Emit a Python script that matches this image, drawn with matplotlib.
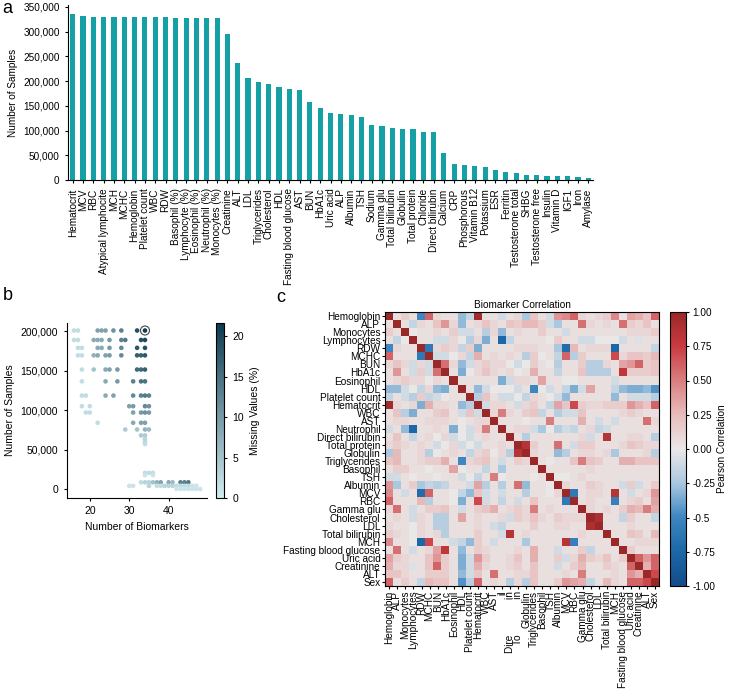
import numpy as np
import matplotlib
matplotlib.use("Agg")
import matplotlib.pyplot as plt
from matplotlib.colors import LinearSegmentedColormap
from matplotlib.ticker import FuncFormatter

plt.rcParams['font.family'] = ['Liberation Sans', 'DejaVu Sans']
plt.rcParams['font.size'] = 7.2
plt.rcParams['axes.linewidth'] = 0.8
plt.rcParams['xtick.major.width'] = 0.8
plt.rcParams['ytick.major.width'] = 0.8
plt.rcParams['xtick.major.size'] = 2.5
plt.rcParams['ytick.major.size'] = 2.5

# ---- panel a: samples per biomarker
biomarkers = ['Hematocrit', 'MCV', 'RBC', 'Atypical lymphocite', 'MCH', 'MCHC',
              'Hemoglobin', 'Platelet count', 'WBC', 'RDW', 'Basophil (%)',
              'Lymphocyte (%)', 'Eosinophil (%)', 'Neutrophil (%)', 'Monocytes (%)',
              'Creatinine', 'ALT', 'LDL', 'Triglycerides', 'Cholesterol', 'HDL',
              'Fasting blood glucose', 'AST', 'BUN', 'HbA1c', 'Uric acid', 'ALP',
              'Albumin', 'TSH', 'Sodium', 'Gamma glu', 'Total bilirubin', 'Globulin',
              'Total protein', 'Chloride', 'Direct bilirubin', 'Calcium', 'CRP',
              'Phosphorous', 'Vitamin B12', 'Potassium', 'ESR', 'Ferritin',
              'Testosterone total', 'SHBG', 'Testosterone free', 'Insulin',
              'Vitamin D', 'IGF1', 'Iron', 'Amylase']
n_samples = [335000, 331500, 330000, 330000, 330000, 330000, 330000, 330000, 330000,
             330000, 328500, 328500, 328500, 328500, 328500, 295500, 237000, 206000,
             198000, 194500, 189000, 185000, 182500, 157500, 145500, 135500, 134000,
             132000, 127500, 111000, 109000, 105700, 103000, 103000, 97000, 96300,
             54500, 33000, 29600, 29000, 27000, 20200, 16800, 13500, 9400, 9400,
             8100, 8100, 7400, 6700, 4700]

# ---- panel b: cohorts (number of biomarkers, number of samples, missing %)
bio_count = [16, 17, 22, 23, 24, 26, 28, 32, 34,
             16, 17, 21, 22, 23, 25, 28, 29, 33, 34,
             17, 18, 22, 23, 25, 28, 32, 34,
             17, 18, 21, 22, 24, 25, 28, 32, 33, 34,
             18, 21, 24, 25, 27, 32, 33, 34,
             18, 24, 27, 31, 33, 34,
             18, 19, 24, 26, 31, 33, 34, 35,
             18, 20, 30, 31, 34, 35,
             19, 20, 31, 33, 34, 35,
             22, 31, 33, 34,
             29, 32, 34, 35,
             33, 34, 34, 34, 34,
             34, 35, 36, 34, 36,
             33, 34, 35, 36, 37, 38, 40, 41, 43, 44, 45,
             30, 31, 35, 37, 38, 39, 40, 41, 42, 43, 44, 45, 46, 47,
             42, 43, 44, 45, 46, 47, 48]
sample_count = [201000] * 9 + [189000] * 10 + [179000] * 8 + [169500] * 10 + \
               [151500] * 8 + [136500] * 6 + [118500] * 8 + [105000] * 6 + \
               [97000] * 6 + [84000] * 4 + [75500] * 4 + \
               [68000, 68000, 63500, 60000, 57000] + \
               [20500, 20500, 20500, 17500, 17500] + [8500] * 11 + [4000] * 14 + [0] * 7
missing_pct = [2, 2, 9, 9, 9, 11, 13, 19, 21.5,
               2, 2, 8, 8, 8, 10, 13, 14, 19, 20,
               2, 2, 8, 8, 10, 12, 18, 19,
               2, 2, 7, 8, 9, 10, 12, 17, 17, 18,
               2, 5, 8, 9, 10, 16, 16, 17,
               2, 8, 10, 13, 15, 15,
               2, 2, 8, 9, 12, 13, 14, 13,
               2, 2, 9, 10, 12, 11,
               2, 2, 9, 10, 11, 10,
               2, 8, 9, 9,
               4, 5, 7, 6,
               4, 4, 3, 3, 2,
               2, 2, 2, 1, 1,
               2, 3, 3, 5, 7, 9, 8, 6, 13, 13, 14,
               1, 1, 3, 2, 2, 3, 3, 3, 2, 2, 2, 2, 1, 1,
               1, 1, 1, 1, 1, 1, 1]

# ---- panel c: correlation matrix (lower triangle, read row by row)
corr_labels = ['Hemoglobin', 'ALP', 'Monocytes', 'Lymphocytes', 'RDW', 'MCHC', 'BUN',
               'HbA1c', 'Eosinophil', 'HDL', 'Platelet count', 'Hematocrit', 'WBC',
               'AST', 'Neutrophil', 'Direct bilirubin', 'Total protein', 'Globulin',
               'Triglycerides', 'Basophil', 'TSH', 'Albumin', 'MCV', 'RBC', 'Gamma glu',
               'Cholesterol', 'LDL', 'Total bilirubin', 'MCH', 'Fasting blood glucose',
               'Uric acid', 'Creatinine', 'ALT', 'Sex']
# x labels as they appear (some partly hidden in the original)
corr_xlabels = corr_labels[:14] + ['il', 'Dire' + ' ' * 13 + 'in', 'To' + ' ' * 13 + 'in'] + corr_labels[17:]

lower = [
    [],
    [0.05],
    [0.15, 0.05],
    [0.05, -0.15, 0.0],
    [-0.5, 0.1, 0.05, 0.05],
    [0.6, 0.05, 0.05, 0.05, -0.6],
    [0.1, 0.2, 0.1, -0.1, 0.1, -0.1],
    [0.05, 0.4, 0.05, -0.1, 0.15, -0.1, 0.55],
    [0.05, 0.1, 0.15, 0.1, 0.1, 0.0, 0.1, 0.05],
    [-0.3, -0.3, -0.1, 0.0, -0.15, 0.1, -0.3, -0.35, 0.05],
    [-0.15, 0.05, -0.1, -0.2, 0.15, -0.15, -0.1, 0.0, 0.05, 0.05],
    [0.95, 0.1, 0.05, 0.1, -0.35, 0.3, 0.1, 0.1, 0.05, -0.3, -0.2],
    [0.05, 0.2, -0.2, -0.35, 0.05, 0.05, 0.15, 0.2, 0.05, -0.1, 0.2, -0.1],
    [0.05, 0.1, 0.1, 0.05, 0.05, 0.1, 0.1, 0.1, 0.05, 0.0, 0.05, 0.1, 0.1],
    [-0.1, 0.05, -0.3, -0.75, 0.05, 0.05, 0.1, 0.05, -0.35, 0.0, -0.1, 0.1, 0.5, 0.05],
    [0.05, 0.2, 0.05, -0.15, 0.05, 0.1, 0.0, 0.1, -0.1, 0.0, -0.1, 0.05, 0.1, 0.05, 0.05],
    [0.1, 0.15, 0.1, 0.05, 0.1, 0.05, -0.1, 0.0, 0.1, -0.1, 0.0, -0.1, 0.05, 0.05, 0.1, 0.05],
    [-0.25, 0.25, 0.05, 0.05, 0.1, -0.2, 0.0, 0.05, 0.1, 0.05, -0.15, 0.1, 0.15, 0.0, 0.1, -0.2, 0.85],
    [0.2, 0.25, 0.05, 0.05, 0.1, 0.15, 0.15, 0.3, 0.05, -0.5, 0.1, 0.15, 0.2, 0.05, -0.1, 0.05, 0.15,
     0.1],
    [0.05, 0.15, 0.15, 0.05, 0.05, 0.0, 0.05, 0.05, 0.35, 0.0, 0.05, 0.05, -0.15, 0.05, -0.25, 0.05, 0.05,
     0.05, 0.05],
    [-0.1, -0.1, 0.05, 0.0, 0.05, 0.05, 0.0, 0.05, 0.05, -0.1, 0.0, -0.15, 0.05, 0.5, 0.0, 0.05, 0.05,
     0.05, 0.0, 0.05],
    [0.4, -0.25, 0.05, 0.15, -0.25, -0.15, -0.2, -0.15, 0.05, 0.05, -0.1, 0.35, -0.2, 0.05, -0.2, 0.05, 0.55,
     -0.3, 0.05, 0.05, 0.0],
    [0.45, 0.05, -0.1, 0.05, -0.7, 0.6, 0.05, 0.05, 0.0, -0.15, -0.3, 0.2, -0.1, 0.05, -0.1, 0.05, 0.05,
     -0.2, 0.05, 0.05, 0.0, 0.1],
    [0.6, 0.05, 0.05, 0.05, 0.25, -0.2, 0.05, 0.05, 0.0, -0.35, 0.05, 0.7, -0.1, 0.05, -0.15, 0.05, -0.1,
     0.05, 0.2, 0.05, 0.05, 0.05, -0.6],
    [0.1, 0.55, 0.05, -0.1, 0.05, 0.15, 0.15, 0.2, 0.05, -0.1, 0.05, 0.15, 0.2, 0.3, 0.05, 0.1, 0.15,
     0.1, 0.5, 0.05, 0.1, 0.05, 0.05, 0.05],
    [0.05, 0.1, 0.05, -0.1, 0.1, 0.05, -0.2, -0.2, 0.05, 0.35, 0.05, 0.1, 0.05, 0.05, 0.1, -0.1, 0.15,
     0.1, 0.2, 0.1, 0.05, 0.15, 0.1, 0.1, 0.1],
    [0.1, 0.05, 0.05, 0.0, 0.1, 0.05, -0.2, -0.2, 0.05, 0.05, 0.05, 0.1, 0.05, -0.1, -0.15, 0.05, 0.05,
     0.05, 0.15, 0.05, 0.05, 0.1, 0.1, 0.05, 0.05, 0.9],
    [0.15, 0.1, 0.05, 0.0, 0.1, 0.05, 0.1, -0.2, 0.05, 0.05, 0.05, 0.15, 0.05, 0.05, -0.1, 0.85, 0.05,
     0.1, 0.05, 0.05, 0.05, 0.05, 0.05, 0.05, 0.1, 0.05, 0.05],
    [0.45, 0.05, 0.05, 0.0, -0.75, 0.7, 0.05, 0.05, -0.1, -0.15, -0.3, 0.15, 0.05, -0.1, 0.05, 0.05, 0.05,
     -0.25, 0.05, 0.05, 0.05, 0.05, 0.85, -0.55, 0.05, 0.05, 0.05, 0.05],
    [0.05, 0.55, 0.05, -0.1, 0.05, 0.1, 0.35, 0.8, 0.05, -0.3, 0.05, 0.15, 0.1, 0.05, 0.05, 0.05, 0.1,
     0.05, 0.3, 0.05, 0.05, -0.1, 0.05, 0.05, 0.15, -0.15, 0.05, 0.05, 0.05],
    [0.35, 0.15, 0.1, 0.05, 0.05, 0.2, 0.4, 0.15, 0.05, -0.35, -0.1, 0.4, 0.15, 0.05, 0.05, 0.1, 0.2,
     0.05, 0.3, 0.05, 0.05, 0.15, -0.1, 0.1, 0.3, 0.15, 0.1, 0.2, 0.05, 0.15],
    [0.3, 0.1, 0.1, -0.05, 0.05, 0.2, 0.6, 0.15, 0.05, -0.35, -0.1, 0.3, 0.1, 0.05, 0.05, 0.1, 0.15,
     0.05, 0.2, 0.05, 0.05, -0.1, 0.05, 0.15, 0.25, 0.05, 0.05, 0.15, 0.1, 0.05, 0.6],
    [0.2, 0.2, 0.1, 0.05, 0.05, 0.15, 0.15, 0.15, 0.05, -0.3, -0.1, 0.2, 0.05, 0.55, 0.05, 0.05, 0.1,
     0.1, 0.2, 0.05, 0.05, 0.05, 0.1, 0.05, 0.5, 0.05, 0.05, 0.05, 0.1, 0.05, 0.4, 0.3],
    [0.6, 0.05, 0.15, 0.05, -0.15, 0.25, 0.2, 0.2, 0.05, -0.45, -0.2, 0.6, 0.05, 0.1, 0.05, -0.2, 0.1,
     -0.2, 0.2, 0.05, 0.05, 0.15, 0.4, 0.35, 0.3, -0.15, 0.05, 0.25, 0.1, 0.05, 0.6, 0.6, 0.7],
]

n = len(corr_labels)
corr = np.eye(n)
for i, row in enumerate(lower):
    for j, v in enumerate(row):
        corr[i, j] = v
        corr[j, i] = v

W, H = 729, 692
fig = plt.figure(figsize=(W / 100, H / 100), dpi=100)


def axes_px(l, t, r, b):
    return fig.add_axes([l / W, 1 - b / H, (r - l) / W, (b - t) / H])


thousands = FuncFormatter(lambda v, p: f'{int(v):,}')

# ---------------- a
ax = axes_px(68, 5, 593, 180)
xpos = np.arange(len(biomarkers))
ax.bar(xpos, n_samples, width=0.5, color='#14a0a4')
ax.set_xlim(-0.46, len(biomarkers) - 0.54)
ax.set_ylim(0, 354000)
ax.set_yticks(np.arange(0, 350001, 50000))
ax.yaxis.set_major_formatter(thousands)
ax.set_xticks(xpos)
ax.set_xticklabels(biomarkers, rotation=90)
ax.set_ylabel('Number of Samples')
ax.spines[['top', 'right']].set_visible(False)

# ---------------- b
cmap_b = LinearSegmentedColormap.from_list('miss', ['#d3ecf1', '#0b3a4e'])
axb = axes_px(66.5, 322.7, 207.3, 498)
sc = axb.scatter(bio_count, sample_count, c=missing_pct, cmap=cmap_b, vmin=0, vmax=21.7,
                 s=11, linewidths=0)
top = int(np.argmax(missing_pct))
axb.scatter([bio_count[top]], [sample_count[top]], s=42, facecolors='none',
            edgecolors='#444444', linewidths=0.8)
axb.set_xlim(14.1, 49.8)
axb.set_ylim(-11400, 210900)
axb.set_xticks([20, 30, 40])
axb.set_yticks(np.arange(0, 200001, 50000))
axb.yaxis.set_major_formatter(thousands)
axb.tick_params(labelsize=7.5)
axb.set_xlabel('Number of Biomarkers', fontsize=7.5)
axb.set_ylabel('Number of Samples', fontsize=7.5)
axb.spines[['top', 'right']].set_visible(False)

caxb = axes_px(216, 322.7, 224, 498)
cb = fig.colorbar(sc, cax=caxb, ticks=[0, 5, 10, 15, 20])
cb.outline.set_linewidth(0.8)
cb.ax.tick_params(labelsize=7.5)
cb.set_label('Missing Values (%)', fontsize=7.5)

# ---------------- c
cmap_c = LinearSegmentedColormap.from_list(
    'corr', ['#144c88', '#1c67a7', '#3d86c0', '#aac8df', '#ebe8e8',
             '#e8bcbc', '#d97f80', '#c93b41', '#9b2828'])
axc = axes_px(385.3, 312, 659, 586)
im = axc.imshow(corr, cmap=cmap_c, vmin=-1, vmax=1, aspect='auto', interpolation='nearest')
axc.set_xticks(range(n))
axc.set_yticks(range(n))
axc.set_xticklabels(corr_xlabels, rotation=90)
axc.set_yticklabels(corr_labels)
axc.tick_params(length=2.5, pad=1)
axc.set_title('Biomarker Correlation', fontsize=7.2, pad=3)

caxc = axes_px(670, 312, 686, 586)
cticks = [1.0, 0.75, 0.5, 0.25, 0.0, -0.25, -0.5, -0.75, -1.0]
cbc = fig.colorbar(im, cax=caxc, ticks=cticks)
cbc.ax.set_yticklabels(['1.00', '0.75', '0.50', '0.25', '0.00', '-0.25', '-0.5', '-0.75', '-1.00'])
cbc.ax.tick_params(pad=2)
cbc.outline.set_linewidth(0.8)
cbc.set_label('Pearson Correlation', labelpad=1)

# panel letters
fig.text(2 / W, 1 - 0 / H, 'a', fontsize=13, va='top', ha='left')
fig.text(3 / W, 1 - 287 / H, 'b', fontsize=13, va='top', ha='left')
fig.text(276 / W, 1 - 289 / H, 'c', fontsize=13, va='top', ha='left')

fig.savefig('out.png', dpi=100)
